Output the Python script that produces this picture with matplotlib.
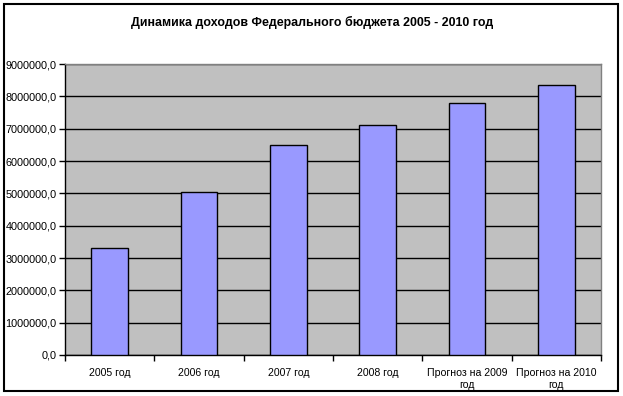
import numpy as np
import matplotlib.pyplot as plt
from matplotlib.patches import Rectangle
from matplotlib.ticker import FuncFormatter

plt.rcParams['font.family'] = ['Liberation Sans', 'DejaVu Sans']

categories = ['2005 год', '2006 год', '2007 год', '2008 год',
              'Прогноз на 2009\nгод', 'Прогноз на 2010\nгод']
revenues = [3300000, 5050000, 6500000, 7100000, 7780000, 8350000]

fig = plt.figure(figsize=(6.23, 3.96), dpi=100)
ax = fig.add_axes([65/623, 1 - 355/396, 536/623, 291/396])

# outer chart frame
fig.patches.append(Rectangle((4/623, 1 - 391/396), 614/623, 387/396,
                             transform=fig.transFigure, fill=False,
                             edgecolor='black', linewidth=1.5))

x = np.arange(len(categories))
ax.set_facecolor('#c0c0c0')
ax.bar(x, revenues, width=0.41, color='#9999ff', edgecolor='black',
       linewidth=1, zorder=3)

ax.set_xlim(-0.5, len(categories) - 0.5)
ax.set_ylim(0, 9000000)
ax.set_yticks(np.arange(0, 9000001, 1000000))
ax.yaxis.set_major_formatter(FuncFormatter(lambda v, p: f'{v:.1f}'.replace('.', ',')))
ax.yaxis.grid(True, color='black', linewidth=1, zorder=1)
ax.set_axisbelow(True)

# ticks at category edges, labels at centres
ax.set_xticks(np.arange(-0.5, len(categories), 1))
ax.set_xticklabels([])
ax.set_xticks(x, minor=True)
ax.set_xticklabels(categories, minor=True, fontsize=7.6, linespacing=1.3)
ax.tick_params(axis='x', which='minor', length=0, pad=9)
ax.tick_params(axis='x', which='major', direction='out', length=4, width=1)
ax.tick_params(axis='y', direction='out', length=4, width=1, labelsize=7.8, pad=2)

for s in ['top', 'right']:
    ax.spines[s].set_color('#808080')
    ax.spines[s].set_linewidth(1)
for s in ['left', 'bottom']:
    ax.spines[s].set_color('black')
    ax.spines[s].set_linewidth(1)

fig.text(312/623, 1 - 22/396, 'Динамика доходов Федерального бюджета 2005 - 2010 год',
         ha='center', va='center', fontsize=8.9, fontweight='bold')

fig.savefig('out.png', dpi=100)
